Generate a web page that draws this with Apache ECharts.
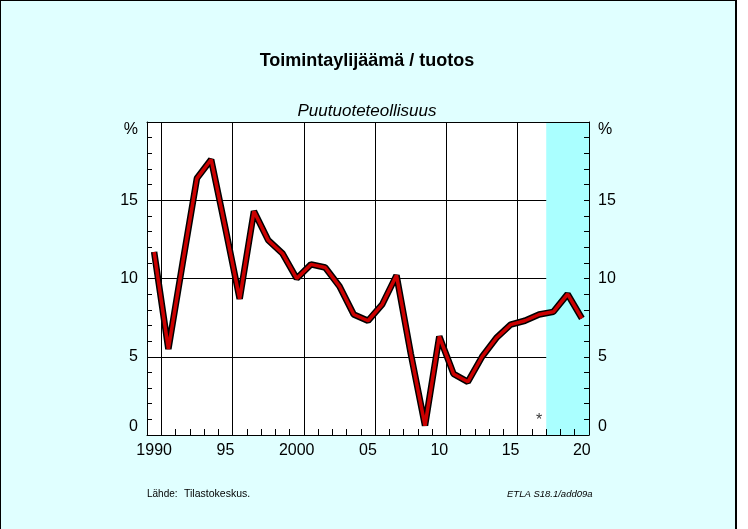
<!DOCTYPE html>
<html>
<head>
<meta charset="utf-8">
<script src="https://cdn.jsdelivr.net/npm/echarts@6/dist/echarts.min.js"></script>
<style>
html,body{margin:0;padding:0;background:#ffffff;}
#bg{position:absolute;left:0;top:0;width:737px;height:529px;box-sizing:border-box;background:#e0ffff;border-left:1px solid #000;border-top:1px solid #000;border-right:2px solid #000;}
#chart{position:absolute;left:0;top:0;width:748px;height:529px;}
</style>
</head>
<body>
<div id="bg"></div>
<div id="chart"></div>
<script>
// Data
const years = ['1990','1991','1992','1993','1994','1995','1996','1997','1998','1999',
  '2000','2001','2002','2003','2004','2005','2006','2007','2008','2009',
  '2010','2011','2012','2013','2014','2015','2016','2017','2018','2019','2020'];
const ratio = [11.7, 5.5, 11.0, 16.4, 17.6, 13.2, 8.7, 14.3, 12.45, 11.6,
  10.0, 10.9, 10.7, 9.5, 7.7, 7.3, 8.35, 10.2, 5.2, 0.6,
  6.3, 3.9, 3.4, 5.0, 6.2, 7.05, 7.3, 7.7, 7.87, 9.0, 7.45];
const forecastSpan = [2017, 2020];
const asteriskPos = [2016.5, 0.95];
const titleText = 'Toimintaylijäämä / tuotos';
const subtitleText = 'Puutuoteteollisuus';
const sourceLabel = 'Lähde:';
const sourceText = 'Tilastokeskus.';
const codeText = 'ETLA S18.1/add09a';

const FONT = "'Liberation Sans', Arial, Helvetica, sans-serif";
const chart = echarts.init(document.getElementById('chart'));

const yLabelFmt = v => (v === 20 ? '%' : String(v));
const xLabelFmt = v => (v === '1990' || v === '2000') ? v : v.slice(2);

const yCommon = {
  type: 'value', min: 0, max: 20, interval: 5,
  axisLine: {show: true, lineStyle: {color: '#000', width: 1}},
  axisTick: {show: true, inside: true, length: 5, lineStyle: {color: '#000'}},
  minorTick: {show: true, splitNumber: 5, length: 5, lineStyle: {color: '#000'}},
  axisLabel: {
    formatter: yLabelFmt, color: '#000', fontFamily: FONT, fontSize: 16, margin: 9,
    verticalAlignMinLabel: 'bottom', verticalAlignMaxLabel: 'top'
  }
};

chart.setOption({
  animation: false,
  backgroundColor: 'transparent',
  grid: {left: 147, right: 159, top: 122, bottom: 94, containLabel: false, show: true,
         backgroundColor: '#ffffff', borderWidth: 0},
  xAxis: [
    { // gridlines only, beneath the shade
      type: 'category', data: years, position: 'bottom', z: 0,
      axisLine: {show: false}, axisTick: {show: false}, axisLabel: {show: false},
      splitLine: {show: true, interval: (i) => i % 5 === 1, lineStyle: {color: '#000', width: 1}}
    },
    { // axis line, ticks and labels above the shade
      type: 'category', data: years, position: 'bottom', z: 5,
      axisLine: {show: true, lineStyle: {color: '#000', width: 1}},
      axisTick: {show: true, inside: true, length: 6, interval: 0, lineStyle: {color: '#000'}},
      axisLabel: {interval: 4, formatter: xLabelFmt, color: '#000', fontFamily: FONT, fontSize: 16, margin: 8},
      splitLine: {show: false}
    },
    { // numeric helper axis for shading and marker; draws top border
      type: 'value', min: 1989, max: 2020, position: 'top', z: 5,
      axisLine: {show: true, onZero: false, lineStyle: {color: '#000', width: 1}},
      axisTick: {show: false}, axisLabel: {show: false}, splitLine: {show: false}
    }
  ],
  yAxis: [
    Object.assign({}, yCommon, {position: 'left', z: 0,
      splitLine: {show: true, lineStyle: {color: '#000', width: 1}}}),
    Object.assign({}, yCommon, {position: 'right', z: 5, splitLine: {show: false}})
  ],
  series: [
    {
      type: 'scatter', xAxisIndex: 2, yAxisIndex: 0, z: 2,
      data: [asteriskPos], symbolSize: 0,
      label: {show: true, formatter: '*', position: 'inside', color: '#000', fontSize: 16, fontFamily: FONT},
      markArea: {silent: true, itemStyle: {color: '#aaffff', opacity: 1},
        data: [[{xAxis: forecastSpan[0]}, {xAxis: forecastSpan[1]}]]}
    },
    {
      type: 'line', xAxisIndex: 1, yAxisIndex: 0, z: 3, data: ratio,
      symbol: 'none', lineStyle: {color: '#000', width: 6.5}, silent: true
    },
    {
      type: 'line', xAxisIndex: 1, yAxisIndex: 0, z: 4, data: ratio,
      symbol: 'none', lineStyle: {color: '#cc0000', width: 3.5}, silent: true
    }
  ],
  graphic: [
    {type: 'text', x: 367, y: 61, style: {text: titleText, fill: '#000', font: "bold 18px " + FONT, textAlign: 'center', textVerticalAlign: 'middle'}},
    {type: 'text', x: 367, y: 111, style: {text: subtitleText, fill: '#000', font: "italic 17px " + FONT, textAlign: 'center', textVerticalAlign: 'middle'}},
    {type: 'text', x: 147, y: 494, style: {text: sourceLabel, fill: '#000', font: "10px " + FONT, textAlign: 'left', textVerticalAlign: 'middle'}},
    {type: 'text', x: 184, y: 494, style: {text: sourceText, fill: '#000', font: "10.5px " + FONT, textAlign: 'left', textVerticalAlign: 'middle'}},
    {type: 'text', x: 507, y: 494, style: {text: codeText, fill: '#000', font: "italic 9.5px " + FONT, textAlign: 'left', textVerticalAlign: 'middle'}}
  ]
});
</script>
</body>
</html>
